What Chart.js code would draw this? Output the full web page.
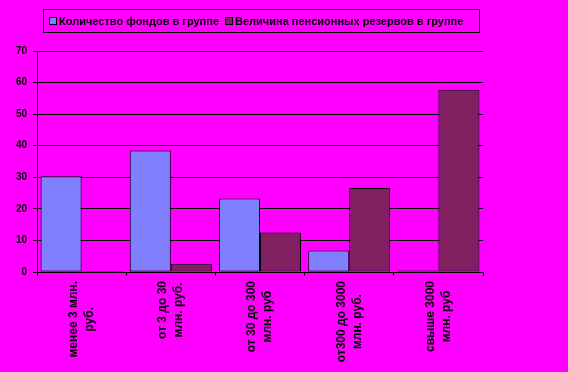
<!DOCTYPE html>
<html>
<head>
<meta charset="utf-8">
<script src="https://cdn.jsdelivr.net/npm/chart.js@4/dist/chart.umd.min.js"></script>
<style>
  body { margin: 0; background: #FF00FF; }
  #wrap { position: relative; width: 568px; height: 372px; }
  #legend {
    position: absolute; left: 43px; top: 9px; width: 435px; height: 22px;
    border: 1px solid #000; display: flex; align-items: center;
    font: bold 11px "Liberation Sans", Arial, sans-serif; color: #000; white-space: nowrap;
  }
  #legend .item { display: flex; align-items: center; margin-left: 5px; }
  #legend .item + .item { margin-left: 6px; }
  #legend .sw { width: 6px; height: 6px; border: 1px solid #000; margin-right: 2px; }
</style>
</head>
<body>
<div id="wrap">
  <canvas id="chart" width="568" height="372"></canvas>
  <div id="legend"></div>
</div>
<script>
const categories = [
  ['менее 3 млн.', 'руб.'],
  ['от 3 до 30', 'млн. руб.'],
  ['от 30 до 300', 'млн. руб'],
  ['от300 до 3000', 'млн. руб.'],
  ['свыше 3000', 'млн. руб']
];
const seriesNames = ['Количество фондов в группе', 'Величина пенсионных резервов в группе'];
const fundsCount = [30.3, 38.5, 23.3, 6.8, 0.5];
const reserves = [0.3, 2.6, 12.5, 26.6, 57.7];
const seriesColors = ['#8080FF', '#802060'];
const yTicks = [0, 10, 20, 30, 40, 50, 60, 70];

const FONT = '"Liberation Sans", Arial, sans-serif';

// legend as plain html
const legendEl = document.getElementById('legend');
seriesNames.forEach((name, i) => {
  const item = document.createElement('div');
  item.className = 'item';
  item.innerHTML = '<span class="sw" style="background:' + seriesColors[i] + '"></span><span></span>';
  item.lastChild.textContent = name;
  legendEl.appendChild(item);
});

// two-line vertical category labels, centred on each other
const xLabels = {
  id: 'xLabels',
  afterDraw(chart) {
    const ctx = chart.ctx;
    const x = chart.scales.x;
    ctx.save();
    ctx.font = 'bold 12px ' + FONT;
    ctx.fillStyle = '#000';
    ctx.textAlign = 'center';
    ctx.textBaseline = 'middle';
    categories.forEach((lines, i) => {
      const cx = x.getPixelForValue(i);
      const w = Math.max(...lines.map(l => ctx.measureText(l).width));
      const cy = x.top + 9 + w / 2;
      lines.forEach((line, k) => {
        ctx.save();
        ctx.translate(cx + (k - (lines.length - 1) / 2) * 16, cy);
        ctx.rotate(-Math.PI / 2);
        ctx.fillText(line, 0, 0);
        ctx.restore();
      });
    });
    ctx.restore();
  }
};

new Chart(document.getElementById('chart'), {
  type: 'bar',
  data: {
    labels: categories.map(c => c.join(' ')),
    datasets: [
      { label: seriesNames[0], data: fundsCount, backgroundColor: seriesColors[0] },
      { label: seriesNames[1], data: reserves, backgroundColor: seriesColors[1] }
    ]
  },
  options: {
    responsive: false,
    animation: false,
    layout: { padding: { top: 51, right: 85, left: 0, bottom: 0 } },
    datasets: {
      bar: {
        borderColor: '#000', borderWidth: 1, borderSkipped: false,
        categoryPercentage: 0.92, barPercentage: 1
      }
    },
    plugins: { legend: { display: false }, tooltip: { enabled: false } },
    scales: {
      x: {
        afterFit: s => { s.height = 100; },
        ticks: { display: false },
        grid: { offset: true, drawOnChartArea: false, drawTicks: true, tickLength: 4, color: '#000' },
        border: { color: '#000', width: 1 }
      },
      y: {
        min: 0, max: 70,
        afterFit: s => { s.width = 37; },
        afterBuildTicks: s => { s.ticks = yTicks.map(v => ({ value: v })); },
        ticks: { color: '#000', padding: 6, font: { family: FONT, size: 10, weight: 'bold' } },
        grid: { color: '#000', tickLength: 4 },
        border: { color: '#000', width: 1 }
      }
    }
  },
  plugins: [xLabels]
});
</script>
</body>
</html>
